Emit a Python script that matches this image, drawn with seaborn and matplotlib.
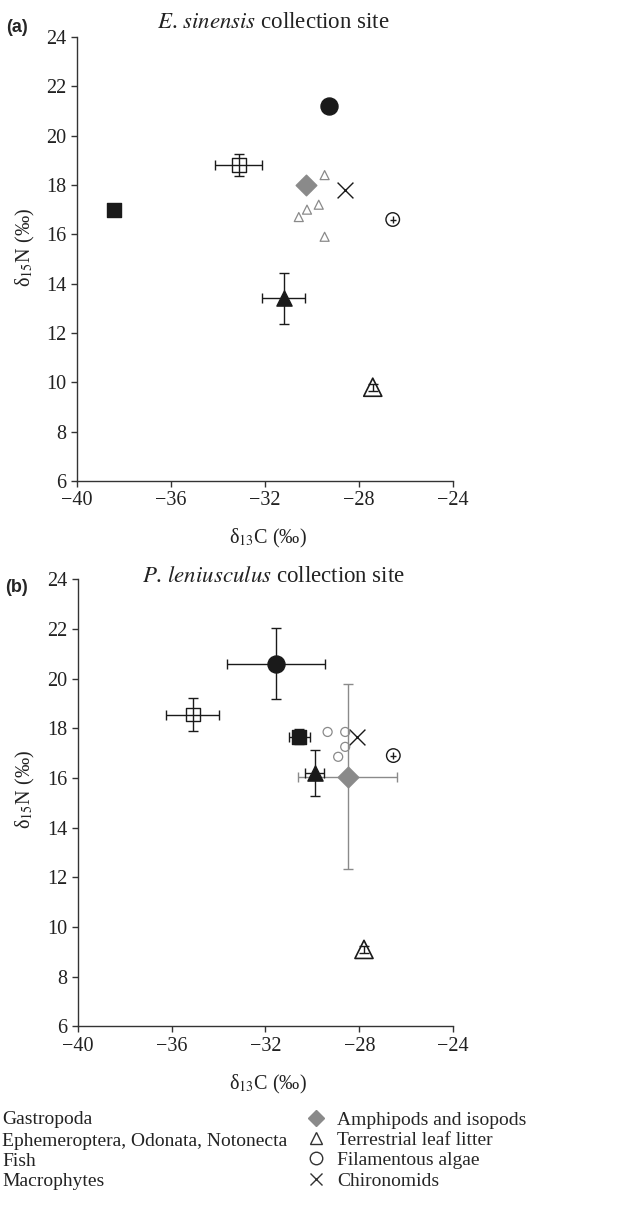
import numpy as np
import pandas as pd
import matplotlib
matplotlib.use("Agg")
import matplotlib.pyplot as plt
from matplotlib.lines import Line2D
import seaborn as sns

# ---- data (d13C, d15N, sd13C, sd15N) ----
# panel (a): E. sinensis collection site
a_fish = [-29.25, 21.2, 0.0, 0.0]
a_ephem = [-33.1, 18.8, 1.0, 0.45]
a_macro = [-38.4, 17.0, 0.0, 0.0]
a_amphi = [-30.25, 18.0, 0.0, 0.2]
a_gastro = [-31.2, 13.4, 0.92, 1.03]
a_leaf = [-27.4, 9.8, 0.0, 0.15]
a_chiro = [-28.6, 17.8, 0.0, 0.0]
a_algae = [-26.55, 16.6, 0.13, 0.15]
a_small_x = [-29.45, -30.55, -30.2, -29.7, -29.45]
a_small_y = [18.4, 16.7, 17.0, 17.2, 15.9]

# panel (b): P. leniusculus collection site
b_fish = [-31.55, 20.6, 2.1, 1.43]
b_ephem = [-35.1, 18.55, 1.12, 0.66]
b_macro = [-30.55, 17.65, 0.45, 0.3]
b_amphi = [-28.5, 16.05, 2.1, 3.73]
b_gastro = [-29.9, 16.2, 0.4, 0.91]
b_leaf = [-27.8, 9.1, 0.0, 0.15]
b_chiro = [-28.1, 17.65, 0.0, 0.0]
b_algae = [-26.55, 16.9, 0.13, 0.15]
b_small_x = [-29.35, -28.6, -28.6, -28.9]
b_small_y = [17.85, 17.85, 17.25, 16.85]

left_legend = ["Gastropoda", "Ephemeroptera, Odonata, Notonecta", "Fish", "Macrophytes"]
right_legend = ["Amphipods and isopods", "Terrestrial leaf litter", "Filamentous algae", "Chironomids"]

sns.set_style("ticks")
plt.rcParams["font.family"] = ["Liberation Serif", "DejaVu Serif"]
plt.rcParams["mathtext.fontset"] = "stix"

DARK = "#1a1a1a"
GRAY = "#8a8a8a"


def point(ax, p, marker, size, face, edge, ecol=DARK, lw=1.0, cap=3.5, z=3):
    x, y, xe, ye = p
    if xe or ye:
        ax.errorbar([x], [y], xerr=[xe] if xe else None, yerr=[ye] if ye else None,
                    fmt="none", ecolor=ecol, elinewidth=1.0, capsize=cap, capthick=1.0, zorder=2)
    sns.scatterplot(x=[x], y=[y], marker=marker, s=size, color=face, edgecolor=edge,
                    linewidth=lw, ax=ax, zorder=z, legend=False)


def panel(ax, fish, ephem, macro, amphi, gastro, leaf, chiro, algae, sx, sy, small_marker):
    point(ax, fish, "o", 150, DARK, DARK)
    point(ax, ephem, "s", 100, "none", DARK)
    point(ax, macro, "s", 110, DARK, DARK)
    point(ax, amphi, "D", 110, GRAY, GRAY, ecol=GRAY)
    point(ax, gastro, "^", 120, DARK, DARK)
    point(ax, leaf, "^", 170, "none", DARK, lw=1.2)
    point(ax, chiro, "x", 130, DARK, DARK, lw=1.0)
    point(ax, algae, "o", 95, "none", DARK, cap=0)
    sns.scatterplot(x=sx, y=sy, marker=small_marker, s=42, color="none",
                    edgecolor=GRAY, linewidth=0.9, ax=ax, legend=False, zorder=3)

    ax.set_xlim(-40, -24)
    ax.set_ylim(6, 24)
    ax.set_xticks(np.arange(-40, -23, 4))
    ax.set_yticks(np.arange(6, 25, 2))
    ax.set_xticklabels(["\u221240", "\u221236", "\u221232", "\u221228", "\u221224"])
    ax.set_xlabel("")
    ax.set_ylabel("")
    sns.despine(ax=ax)
    for s in ("left", "bottom"):
        ax.spines[s].set_color("#333333")
        ax.spines[s].set_linewidth(1.0)
    ax.tick_params(labelsize=14.5, length=4, width=1.0, color="#333333", labelcolor="#222222")


fig = plt.figure(figsize=(6.2, 12.09), dpi=100)
ax1 = fig.add_axes([0.124, 0.6022, 0.606, 0.3672])
ax2 = fig.add_axes([0.1253, 0.151, 0.6056, 0.370])

panel(ax1, a_fish, a_ephem, a_macro, a_amphi, a_gastro, a_leaf, a_chiro, a_algae,
      a_small_x, a_small_y, "^")
panel(ax2, b_fish, b_ephem, b_macro, b_amphi, b_gastro, b_leaf, b_chiro, b_algae,
      b_small_x, b_small_y, "o")

H = 1209.0
fig.text(273 / 620, 1 - 22 / H, r"$\mathit{E}$. $\mathit{sinensis}$ collection site",
         ha="center", va="center", fontsize=16.5, color="#222222")
fig.text(273 / 620, 1 - 576 / H, r"$\mathit{P}$. $\mathit{leniusculus}$ collection site",
         ha="center", va="center", fontsize=16.5, color="#222222")
fig.text(17 / 620, 1 - 27 / H, "(a)", ha="center", va="center", fontsize=13,
         fontweight="bold", family=["Liberation Sans", "DejaVu Sans"])
fig.text(17 / 620, 1 - 588 / H, "(b)", ha="center", va="center", fontsize=13,
         fontweight="bold", family=["Liberation Sans", "DejaVu Sans"])

for yc in (538, 1084):
    fig.text(268 / 620, 1 - yc / H, "δ$_{13}$C (‰)", ha="center", va="center",
             fontsize=14.5, color="#222222")
for yc in (248, 790):
    fig.text(25 / 620, 1 - yc / H, "δ$_{15}$N (‰)", ha="center", va="center",
             fontsize=14.5, rotation=90, color="#222222")

# legend, left column (symbols cut off in the original)
for txt, yc in zip(left_legend, (1119, 1141, 1162, 1181)):
    fig.text(2 / 620, 1 - yc / H, txt, ha="left", va="center", fontsize=14, color="#222222")

handles = [
    Line2D([], [], ls="none", marker="D", ms=8, mfc=GRAY, mec=GRAY),
    Line2D([], [], ls="none", marker="^", ms=9, mfc="none", mec="#333333", mew=1.0),
    Line2D([], [], ls="none", marker="o", ms=9, mfc="none", mec="#333333", mew=1.0),
    Line2D([], [], ls="none", marker="x", ms=9, mec="#333333", mew=1.0),
]
fig.legend(handles, right_legend, loc="upper left", bbox_to_anchor=(306 / 620, 1 - 1111 / H),
           frameon=False, fontsize=14, handlelength=1.0, handletextpad=0.6,
           labelspacing=0.14, borderpad=0, borderaxespad=0)

fig.savefig("out.png", dpi=100)
